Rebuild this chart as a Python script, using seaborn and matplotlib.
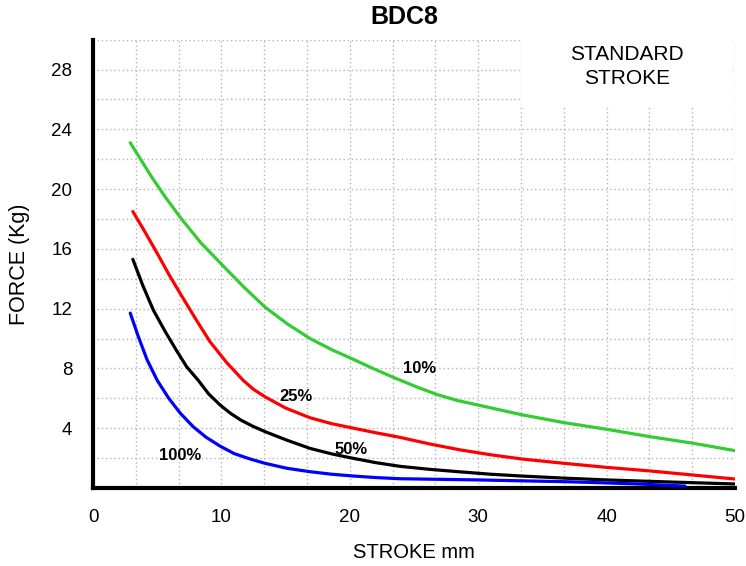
import matplotlib
matplotlib.use('Agg')
import matplotlib.pyplot as plt
import seaborn as sns
import numpy as np
from matplotlib.patches import Rectangle

# curve values (stroke mm -> force Kg)
green_x = [2.9, 3.7, 4.5, 5.6, 6.8, 8.4, 10.2, 11.8, 13.4, 15.1, 16.9, 18.6, 20.3, 21.8, 23.4,
           25.1, 26.8, 28.4, 30.0, 33.4, 36.7, 40.0, 43.4, 46.7, 50.0]
green_y = [23.1, 22.0, 20.9, 19.5, 18.1, 16.4, 14.8, 13.4, 12.1, 11.0, 10.0, 9.25, 8.6, 8.0, 7.4,
           6.8, 6.25, 5.85, 5.55, 4.9, 4.37, 3.93, 3.43, 3.0, 2.5]

red_x = [3.1, 4.0, 5.0, 5.9, 6.8, 8.0, 9.1, 10.4, 11.7, 12.5, 13.4, 15.0, 16.9, 18.6, 20.3,
         22.0, 23.9, 26.2, 28.6, 31.0, 33.4, 36.7, 40.0, 43.4, 46.7, 50.0]
red_y = [18.5, 17.2, 15.7, 14.3, 13.0, 11.3, 9.8, 8.4, 7.2, 6.6, 6.1, 5.35, 4.7, 4.3, 4.0,
         3.7, 3.39, 2.95, 2.55, 2.22, 1.94, 1.65, 1.38, 1.14, 0.87, 0.6]

black_x = [3.1, 3.9, 4.7, 5.6, 6.5, 7.3, 8.2, 9.0, 9.9, 10.7, 11.5, 12.4, 13.4, 15.1, 16.9,
           18.6, 20.3, 22.0, 23.9, 26.2, 28.6, 31.0, 33.4, 36.7, 40.0, 45.0, 50.0]
black_y = [15.3, 13.5, 11.9, 10.5, 9.2, 8.1, 7.2, 6.3, 5.55, 5.0, 4.55, 4.15, 3.77, 3.2, 2.65,
           2.28, 1.98, 1.7, 1.45, 1.25, 1.08, 0.92, 0.8, 0.66, 0.54, 0.4, 0.27]

blue_x = [2.9, 3.5, 4.2, 5.0, 5.9, 6.8, 7.8, 8.8, 9.9, 11.0, 12.2, 13.4, 15.1, 16.9, 18.6,
          20.3, 22.0, 23.9, 27.0, 30.0, 33.4, 36.9, 40.0, 43.0, 46.1]
blue_y = [11.7, 10.2, 8.6, 7.2, 6.0, 5.0, 4.1, 3.4, 2.8, 2.3, 1.95, 1.65, 1.32, 1.09, 0.92,
          0.8, 0.7, 0.62, 0.58, 0.54, 0.48, 0.42, 0.34, 0.25, 0.13]

curve_labels = ['10%', '25%', '50%', '100%']
label_x = [25.4, 15.8, 20.1, 6.8]
label_y = [8.0, 6.1, 2.6, 2.15]

x_ticks = [0, 10, 20, 30, 40, 50]
y_ticks = [0, 4, 8, 12, 16, 20, 24, 28]
y_ticklabels = ['', '4', '8', '12', '16', '20', '24', '28']

sns.set_style('white')
plt.rcParams['font.family'] = ['Liberation Sans', 'DejaVu Sans']
plt.rcParams['text.color'] = 'black'
plt.rcParams['axes.labelcolor'] = 'black'
plt.rcParams['xtick.color'] = 'black'
plt.rcParams['ytick.color'] = 'black'

fig, ax = plt.subplots(figsize=(7.46, 5.66), dpi=100)
fig.subplots_adjust(left=0.1247, right=0.9853, bottom=0.1378, top=0.930)

series = [(green_x, green_y, '#33cc33'), (red_x, red_y, '#ff0000'),
          (black_x, black_y, '#000000'), (blue_x, blue_y, '#0000ff')]
for xs, ys, c in series:
    sns.lineplot(x=xs, y=ys, color=c, linewidth=2.3, sort=False, ax=ax, zorder=3)

for txt, tx, ty in zip(curve_labels, label_x, label_y):
    ax.text(tx, ty, txt, fontsize=12, fontweight='bold', ha='center', va='center', zorder=4)

ax.set_xlim(0, 50)
ax.set_ylim(0, 30)
ax.set_xticks(x_ticks)
ax.set_xticklabels([str(v) for v in x_ticks])
ax.set_yticks(y_ticks)
ax.set_yticklabels(y_ticklabels)
ax.set_xticks(np.arange(0, 50.1, 10 / 3), minor=True)
ax.set_yticks(np.arange(2, 30.1, 2), minor=True)
ax.tick_params(which='major', length=7, width=2, direction='out', labelsize=13.5, pad=8)
ax.tick_params(which='minor', length=0)
ax.grid(True, which='both', color='#b4b4b4', linestyle=(0, (1, 2)), linewidth=1)
ax.set_axisbelow(True)

for side in ['top', 'right']:
    ax.spines[side].set_visible(False)
for side in ['left', 'bottom']:
    ax.spines[side].set_linewidth(3)
    ax.spines[side].set_color('black')

# white box behind the "STANDARD STROKE" note
ax.add_patch(Rectangle((33.35, 25.5), 16.45, 5, facecolor='white', edgecolor='none', zorder=1))
ax.text(41.6, 28.2, 'STANDARD\nSTROKE', fontsize=15, ha='center', va='center',
        linespacing=1.3, zorder=4)

ax.set_xlabel('STROKE mm', fontsize=14.5, labelpad=12)
ax.set_ylabel('FORCE (Kg)', fontsize=15.5, labelpad=15)
fig.text(404 / 746, 1 - 17.5 / 566, 'BDC8', fontsize=18, fontweight='bold', ha='center', va='center')

fig.savefig('out.png', dpi=100)
